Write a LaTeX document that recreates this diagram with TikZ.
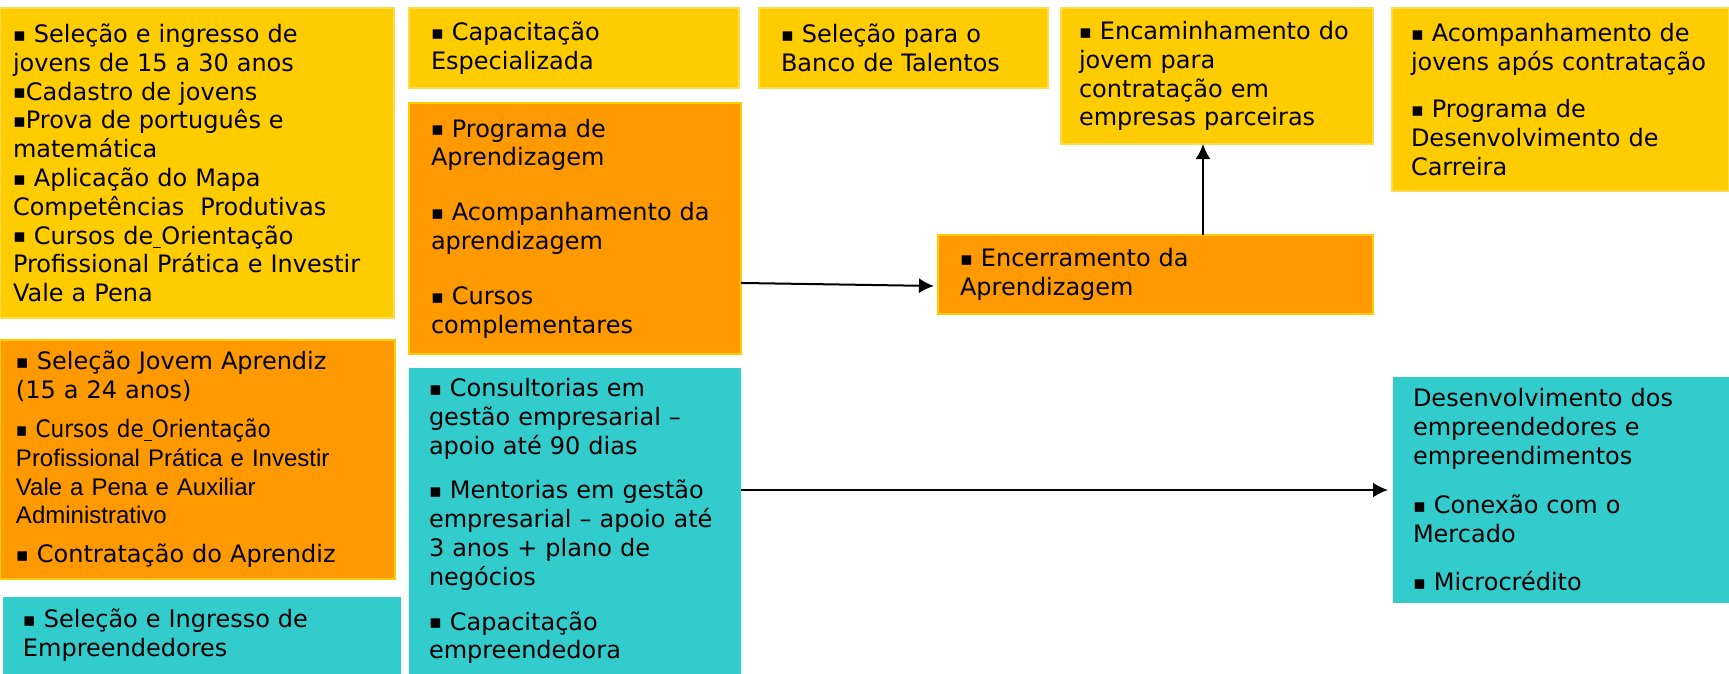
\documentclass[tikz,border=0pt]{standalone}
\usepackage{fontspec}
\setmainfont{DejaVu Sans}
\newfontfamily\arialfont{Liberation Sans}
\newfontfamily\narrowfont[FakeStretch=0.9]{DejaVu Sans}
\usetikzlibrary{arrows.meta,calc}

\definecolor{cardyellow}{HTML}{FFCC00}
\definecolor{cardorange}{HTML}{FF9900}
\definecolor{cardteal}{HTML}{33CCCC}

% small square bullet
\newcommand\bulletsq{{\fontsize{9.5}{0}\selectfont\raisebox{0.6pt}{▪}}}

\tikzset{
  card/.style       = {shape=rectangle, anchor=north west, align=left,
                       inner ysep=0pt, outer sep=0pt},
  yellowcard/.style = {card, fill=cardyellow, draw=cardyellow!70!white, line width=0.6pt},
  orangecard/.style = {card, fill=cardorange, draw=cardyellow, line width=1.2pt},
  tealcard/.style   = {card, fill=cardteal},
  flow/.style       = {draw, line width=1pt, -{Latex[length=7.5pt,width=7.5pt]}}
}

\begin{document}
\begin{tikzpicture}
[
  x=0.5pt, y=-0.5pt,
  every node/.style = {font=\fontsize{12}{14.4}\selectfont}
]
\useasboundingbox (0,0) rectangle (1729,674);

% left column
\node[yellowcard, text width=184pt, inner xsep=6.5pt, minimum height=155pt] (jovens) at (0,8)
  {\bulletsq{} Seleção e ingresso de\\
   jovens de 15 a 30 anos\\
   \bulletsq{}Cadastro de jovens\\
   \bulletsq{}Prova de português e\\
   matemática\\
   \bulletsq{} Aplicação do Mapa\\
   Competências\ \ Produtivas\\
   \bulletsq{} Cursos de\underline{\ }Orientação\\
   Profissional Prática e Investir\\
   Vale a Pena};
\node[orangecard, text width=181.5pt, inner xsep=8pt, minimum height=119.5pt] (aprendiz) at (0,340)
  {\bulletsq{} Seleção Jovem Aprendiz\\
   (15 a 24 anos)\\[5pt]
   {\narrowfont \bulletsq{} Cursos de\underline{\ }Orientação}\\
   {\arialfont Profissional Prática e Investir}\\
   {\arialfont Vale a Pena e Auxiliar}\\
   {\arialfont Administrativo}\\[5pt]
   \bulletsq{} Contratação do Aprendiz};
\node[tealcard, text width=179pt, inner xsep=10pt, minimum height=38.5pt] (selecao) at (3,597)
  {\bulletsq{} Seleção e Ingresso de\\ Empreendedores};

% middle column
\node[yellowcard, text width=143pt, inner xsep=11pt, minimum height=40pt] (capacitacao) at (409,8)
  {\bulletsq{} Capacitação\\ Especializada};
\node[orangecard, text width=144pt, inner xsep=11pt, minimum height=125.5pt] (programa) at (409,103)
  {\bulletsq{} Programa de\\ Aprendizagem\\[13pt]
   \bulletsq{} Acompanhamento da\\ aprendizagem\\[13pt]
   \bulletsq{} Cursos\\ complementares};
\node[tealcard, text width=146pt, inner xsep=10pt, minimum height=153pt] (consultoria) at (409,368)
  {\bulletsq{} Consultorias em\\ gestão empresarial –\\ apoio até 90 dias\\[8pt]
   \bulletsq{} Mentorias em gestão\\ empresarial – apoio até\\ 3 anos + plano de\\ negócios\\[8pt]
   \bulletsq{} Capacitação\\ empreendedora};

% right part
\node[yellowcard, text width=122.5pt, inner xsep=11pt, minimum height=40pt] (banco) at (759,8)
  {\bulletsq{} Seleção para o\\ Banco de Talentos};
\node[yellowcard, text width=138pt, inner xsep=9pt, minimum height=68pt] (encaminhamento) at (1061,8)
  {\bulletsq{} Encaminhamento do\\ jovem para\\ contratação em\\ empresas parceiras};
\node[orangecard, text width=195.5pt, inner xsep=11pt, minimum height=39.5pt] (encerramento) at (938,235)
  {\bulletsq{} Encerramento da\\ Aprendizagem};
\node[yellowcard, text width=149.5pt, inner xsep=9.5pt, minimum height=91.5pt] (acompanhamento) at (1392,8)
  {\bulletsq{} Acompanhamento de\\ jovens após contratação\\[9pt]
   \bulletsq{} Programa de\\ Desenvolvimento de\\ Carreira};
\node[tealcard, text width=148pt, inner xsep=10pt, minimum height=113pt] (desenvolvimento) at (1393,377)
  {Desenvolvimento dos\\ empreendedores e\\ empreendimentos\\[10pt]
   \bulletsq{} Conexão com o\\ Mercado\\[10pt]
   \bulletsq{} Microcrédito};

% connectors
\coordinate (ptail) at ($(programa.north east)!0.717!(programa.south east)$);
\coordinate (ehead) at ($(encerramento.north west)!0.646!(encerramento.south west)$);
\draw[flow, shorten >=2pt] (ptail) -- (ehead);
\coordinate (hfoot) at ($(encaminhamento.south west)!0.455!(encaminhamento.south east)$);
\draw[flow] (hfoot |- encerramento.north) -- (hfoot);
\draw[flow, shorten >=2.5pt] (consultoria.east |- desenvolvimento.west) -- (desenvolvimento.west);
\end{tikzpicture}
\end{document}
